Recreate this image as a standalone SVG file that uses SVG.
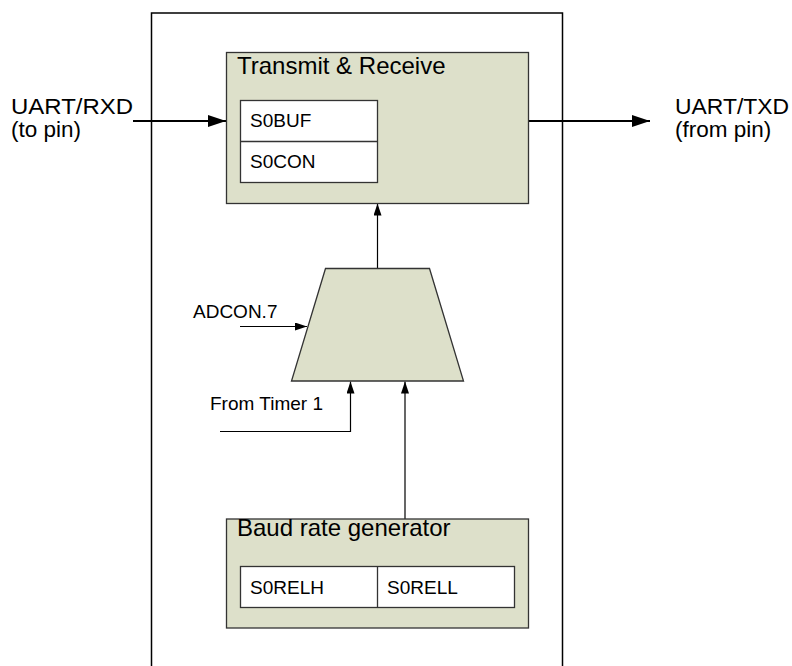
<svg xmlns="http://www.w3.org/2000/svg" width="792" height="666" viewBox="0 0 792 666">
<defs>
<style>
.box{fill:#dde0ca;stroke:#333;stroke-width:1.3}
.reg{fill:#fff;stroke:#333;stroke-width:1.3}
.big{font-family:"Liberation Sans",Arial,sans-serif;font-size:24px;fill:#000}
.pin{font-family:"Liberation Sans",Arial,sans-serif;font-size:22.5px;fill:#000}
.sm{font-family:"Liberation Sans",Arial,sans-serif;font-size:19px;fill:#000}
.w{stroke:#000;stroke-width:2.2;fill:none}
.t{stroke:#000;stroke-width:1.2;fill:none}
</style>
<marker id="ab" markerWidth="18" markerHeight="12" refX="18" refY="6" orient="auto" markerUnits="userSpaceOnUse"><path d="M0,0 L18,6 L0,12 Z" fill="#000"/></marker>
<marker id="as" markerWidth="12" markerHeight="8" refX="12" refY="4" orient="auto" markerUnits="userSpaceOnUse"><path d="M0,0 L12,4 L0,8 Z" fill="#000"/></marker>
</defs>
<rect width="792" height="666" fill="#fff"/>
<g id="chip"><rect x="151.5" y="13" width="411" height="670" fill="none" stroke="#000" stroke-width="1.5"/></g>
<g id="connectors">
<line class="w" x1="133" y1="121" x2="226" y2="121" marker-end="url(#ab)"/>
<line class="w" x1="528" y1="121" x2="650" y2="121" marker-end="url(#ab)"/>
<line class="t" x1="377.5" y1="268" x2="377.5" y2="203.5" marker-end="url(#as)"/>
<line class="t" x1="240" y1="326.5" x2="307" y2="326.5" marker-end="url(#as)"/>
<polyline class="t" points="220,431.5 350.5,431.5 350.5,381.5" marker-end="url(#as)"/>
<line class="t" x1="405" y1="519" x2="405" y2="381.5" marker-end="url(#as)"/>
</g>
<g id="rxd-label"><text class="pin" x="11" y="114"><tspan x="11" y="114" textLength="122" lengthAdjust="spacingAndGlyphs">UART/RXD</tspan><tspan x="11" y="137">(to pin)</tspan></text></g>
<g id="txd-label"><text class="pin" x="675" y="114"><tspan x="675" y="114" textLength="114" lengthAdjust="spacingAndGlyphs">UART/TXD</tspan><tspan x="675" y="137">(from pin)</tspan></text></g>
<g id="transmit-receive">
<rect class="box" x="226.5" y="52.5" width="302" height="151"/>
<text class="big" x="237" y="74">Transmit &amp; Receive</text>
<rect class="reg" x="240.5" y="100.5" width="137" height="82"/>
<line stroke="#333" stroke-width="1.3" x1="240.5" y1="141.5" x2="377.5" y2="141.5"/>
<text class="sm" x="250" y="127">S0BUF</text>
<text class="sm" x="250" y="168">S0CON</text>
</g>
<g id="mux"><polygon class="box" points="325.5,268.5 429.5,268.5 463.5,381 291.5,381"/></g>
<g id="adcon-label"><text class="sm" x="193" y="318">ADCON.7</text></g>
<g id="timer-label"><text class="sm" x="210" y="410">From Timer 1</text></g>
<g id="baud">
<rect class="box" x="226.5" y="519" width="302" height="109"/>
<text class="big" x="237" y="536">Baud rate generator</text>
<rect class="reg" x="240.5" y="566.5" width="274" height="41"/>
<line stroke="#333" stroke-width="1.3" x1="377.5" y1="566.5" x2="377.5" y2="607.5"/>
<text class="sm" x="250" y="594">S0RELH</text>
<text class="sm" x="387" y="594">S0RELL</text>
</g>
</svg>
